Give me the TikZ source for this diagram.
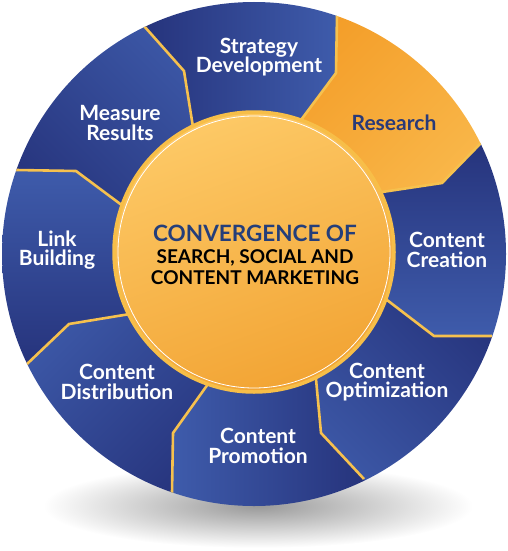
\documentclass[tikz,border=0pt]{standalone}
\usepackage{fontspec}
\setsansfont{Lato}
\usetikzlibrary{calc}
\definecolor{navydark}{RGB}{36, 48, 120}
\definecolor{navylight}{RGB}{64, 94, 174}
\definecolor{researchdark}{RGB}{243, 154, 36}
\definecolor{researchlight}{RGB}{250, 188, 80}
\definecolor{seamgold}{RGB}{246, 193, 78}
\definecolor{hubtop}{RGB}{253, 201, 102}
\definecolor{hubbottom}{RGB}{242, 164, 52}
\definecolor{hubring}{RGB}{247, 190, 72}
\definecolor{hubnavy}{RGB}{36, 62, 122}
\definecolor{labelnavy}{RGB}{42, 58, 120}

\begin{document}
\begin{tikzpicture}[x=1pt,y=-1pt,
    seam/.style={seamgold,line width=2.6pt,line join=round},
    seglabel/.style={white,font=\sffamily\bfseries\fontsize{21}{19.5}\selectfont,align=center},
    hubtext/.style={font=\sffamily\bfseries\fontsize{19}{21.5}\selectfont,align=center}]
        %\draw[step=20,gray,very thin] (0,0) grid (508,551);
        \useasboundingbox (0,0) rectangle (508,551);
        \shade[inner color=black!40,outer color=white] (258,506) ellipse (215 and 42);
        \coordinate (C) at (254,254);
        \coordinate (o1) at (144,26);  \coordinate (k1) at (184,71);  \coordinate (i1) at (193,127);
        \coordinate (o2) at (337,15);  \coordinate (k2) at (336,73);  \coordinate (i2) at (301,120);
        \coordinate (o3) at (481,143); \coordinate (k3) at (442,183); \coordinate (i3) at (382,192);
        \coordinate (o4) at (492,336); \coordinate (k4) at (434,336); \coordinate (i4) at (387,300);
        \coordinate (o5) at (364,479); \coordinate (k5) at (321,433); \coordinate (i5) at (316,379);
        \coordinate (o6) at (172,493); \coordinate (k6) at (173,433); \coordinate (i6) at (208,384);
        \coordinate (o7) at (27,364);  \coordinate (k7) at (69,324);  \coordinate (i7) at (130,314);
        \coordinate (o8) at (16,170);  \coordinate (k8) at (76,171);  \coordinate (i8) at (123,206);
        % the eight segments of the wheel
        \begin{scope}
          \clip (C) circle (252);
          \shade[top color=navylight,bottom color=navydark,shading angle=-90] (o1) -- (k1) -- (i1) -- (C) -- (i2) -- (k2) -- (o2) -- ($(C)!1.15!(o2)$) -- ($(C)!1.15!(o1)$) -- cycle;
          \shade[top color=researchlight,bottom color=researchdark,shading angle=-135] (o2) -- (k2) -- (i2) -- (C) -- (i3) -- (k3) -- (o3) -- ($(C)!1.15!(o3)$) -- ($(C)!1.15!(o2)$) -- cycle;
          \shade[top color=navylight,bottom color=navydark,shading angle=180] (o3) -- (k3) -- (i3) -- (C) -- (i4) -- (k4) -- (o4) -- ($(C)!1.15!(o4)$) -- ($(C)!1.15!(o3)$) -- cycle;
          \shade[top color=navylight,bottom color=navydark,shading angle=135] (o4) -- (k4) -- (i4) -- (C) -- (i5) -- (k5) -- (o5) -- ($(C)!1.15!(o5)$) -- ($(C)!1.15!(o4)$) -- cycle;
          \shade[top color=navylight,bottom color=navydark,shading angle=90] (o5) -- (k5) -- (i5) -- (C) -- (i6) -- (k6) -- (o6) -- ($(C)!1.15!(o6)$) -- ($(C)!1.15!(o5)$) -- cycle;
          \shade[top color=navylight,bottom color=navydark,shading angle=45] (o6) -- (k6) -- (i6) -- (C) -- (i7) -- (k7) -- (o7) -- ($(C)!1.15!(o7)$) -- ($(C)!1.15!(o6)$) -- cycle;
          \shade[top color=navylight,bottom color=navydark,shading angle=0] (o7) -- (k7) -- (i7) -- (C) -- (i8) -- (k8) -- (o8) -- ($(C)!1.15!(o8)$) -- ($(C)!1.15!(o7)$) -- cycle;
          \shade[top color=navylight,bottom color=navydark,shading angle=-45] (o8) -- (k8) -- (i8) -- (C) -- (i1) -- (k1) -- (o1) -- ($(C)!1.15!(o1)$) -- ($(C)!1.15!(o8)$) -- cycle;
          \draw[seam] (o1) -- (k1) -- ($(k1)!1.2!(i1)$);
          \draw[seam] (o2) -- (k2) -- ($(k2)!1.2!(i2)$);
          \draw[seam] (o3) -- (k3) -- ($(k3)!1.2!(i3)$);
          \draw[seam] (o4) -- (k4) -- ($(k4)!1.2!(i4)$);
          \draw[seam] (o5) -- (k5) -- ($(k5)!1.2!(i5)$);
          \draw[seam] (o6) -- (k6) -- ($(k6)!1.2!(i6)$);
          \draw[seam] (o7) -- (k7) -- ($(k7)!1.2!(i7)$);
          \draw[seam] (o8) -- (k8) -- ($(k8)!1.2!(i8)$);
        \end{scope}
        % hub in the middle
        \node[circle,minimum size=280pt,draw=hubring,line width=3.5pt,top color=hubtop,middle color=hubtop!85!hubbottom,bottom color=hubbottom,shading angle=20] (hub) at (254,252) {};
        \draw[white,line width=0.8pt] (hub.center) circle (136);
        \node[hubtext] (hubtitle) at (255,255) {{\color{hubnavy}\fontsize{22.5}{22}\selectfont CONVERGENCE OF}\\SEARCH, SOCIAL AND\\CONTENT MARKETING};
        \node[seglabel] (strategy) at (259,57) {Strategy\\Development};
        \node[seglabel,text=labelnavy] (research) at (394,123) {Research};
        \node[seglabel] (creation) at (447,250) {Content\\Creation};
        \node[seglabel] (optimization) at (387,382) {Content\\Optimization};
        \node[seglabel] (promotion) at (258,446) {Content\\Promotion};
        \node[seglabel] (distribution) at (117,382) {Content\\Distribution};
        \node[seglabel] (linkbuilding) at (57,250) {Link\\Building};
        \node[seglabel] (measure) at (120,123) {Measure\\Results};
\end{tikzpicture}
\end{document}
